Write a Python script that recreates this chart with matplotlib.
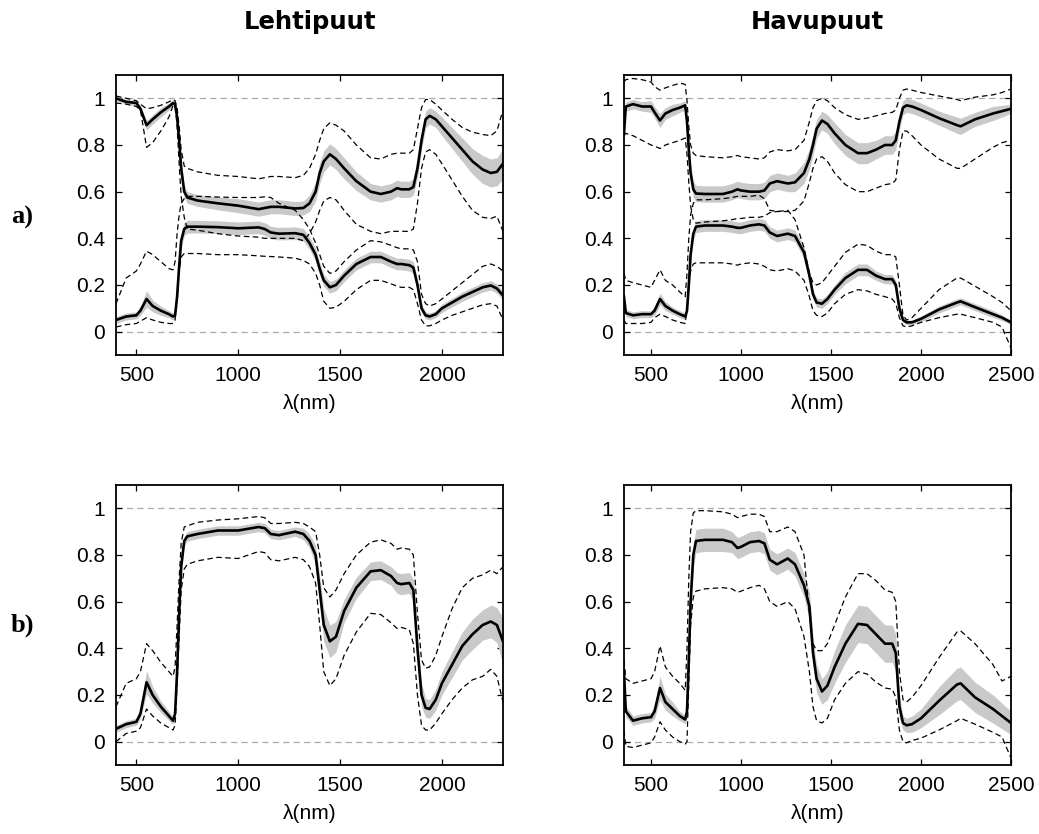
import matplotlib
matplotlib.use("Agg")
import numpy as np
import matplotlib.pyplot as plt

plt.rcParams['font.family'] = ['Liberation Sans', 'DejaVu Sans']
plt.rcParams['mathtext.fontset'] = 'stix'
plt.rcParams['lines.scale_dashes'] = False

# ---------------------------------------------------------------------------
# Wavelength grids (nm)
# ---------------------------------------------------------------------------
wl_leht = [400, 450, 500, 520, 550, 580, 620, 660, 680, 690,
           700, 710, 720, 735, 750, 800, 900, 1000, 1100, 1130,
           1160, 1200, 1280, 1320, 1350, 1380, 1400, 1420, 1450, 1480,
           1520, 1580, 1650, 1700, 1750, 1780, 1800, 1840, 1860, 1880,
           1900, 1920, 1940, 1970, 2000, 2050, 2100, 2150, 2200, 2240,
           2270, 2300]

wl_havu = [350, 360, 400, 450, 500, 520, 550, 580, 620, 660,
           690, 700, 710, 720, 735, 750, 800, 900, 950, 980,
           1000, 1050, 1100, 1130, 1160, 1200, 1260, 1300, 1350, 1380,
           1400, 1420, 1450, 1480, 1520, 1580, 1650, 1700, 1750, 1800,
           1840, 1860, 1880, 1900, 1920, 1950, 2000, 2100, 2200, 2220,
           2300, 2400, 2450, 2500]

# ---------------------------------------------------------------------------
# Lehtipuut, a): upper curve set (1 - T)
# ---------------------------------------------------------------------------
leht_a_up_mean = [1.0, 0.985, 0.98, 0.955, 0.885, 0.91, 0.94, 0.965, 0.98, 0.975,
                  0.92, 0.82, 0.70, 0.60, 0.575, 0.562, 0.55, 0.54, 0.525, 0.53,
                  0.535, 0.535, 0.528, 0.53, 0.55, 0.60, 0.68, 0.73, 0.76, 0.74,
                  0.70, 0.645, 0.60, 0.59, 0.60, 0.615, 0.61, 0.61, 0.62, 0.70,
                  0.82, 0.91, 0.925, 0.91, 0.88, 0.83, 0.78, 0.73, 0.695, 0.68,
                  0.685, 0.72]
leht_a_up_sd = [0.01, 0.01, 0.012, 0.015, 0.02, 0.02, 0.02, 0.015, 0.012, 0.012,
                0.02, 0.03, 0.03, 0.025, 0.025, 0.025, 0.028, 0.03, 0.03, 0.03,
                0.03, 0.03, 0.03, 0.03, 0.035, 0.04, 0.045, 0.045, 0.045, 0.045,
                0.045, 0.04, 0.035, 0.035, 0.035, 0.035, 0.035, 0.035, 0.035, 0.04,
                0.04, 0.035, 0.035, 0.035, 0.04, 0.045, 0.05, 0.055, 0.06, 0.06,
                0.06, 0.065]
leht_a_up_hi = [1.01, 1.0, 0.99, 0.975, 0.955, 0.96, 0.97, 0.985, 0.995, 0.99,
                0.96, 0.88, 0.78, 0.71, 0.70, 0.685, 0.67, 0.665, 0.655, 0.66,
                0.665, 0.665, 0.66, 0.67, 0.70, 0.76, 0.82, 0.87, 0.895, 0.885,
                0.86, 0.80, 0.745, 0.74, 0.76, 0.765, 0.765, 0.765, 0.78, 0.87,
                0.96, 0.995, 0.995, 0.975, 0.95, 0.91, 0.875, 0.855, 0.845, 0.84,
                0.86, 0.95]
leht_a_up_lo = [0.98, 0.975, 0.965, 0.95, 0.79, 0.81, 0.86, 0.92, 0.97, 0.97,
                0.88, 0.72, 0.58, 0.49, 0.44, 0.435, 0.42, 0.41, 0.405, 0.40,
                0.40, 0.40, 0.40, 0.39, 0.42, 0.47, 0.52, 0.56, 0.575, 0.565,
                0.52, 0.46, 0.43, 0.42, 0.43, 0.43, 0.43, 0.43, 0.44, 0.55,
                0.70, 0.77, 0.78, 0.76, 0.72, 0.65, 0.58, 0.52, 0.49, 0.485,
                0.495, 0.43]

# Lehtipuut, a): lower curve set (R)
leht_a_lo_mean = [0.05, 0.065, 0.07, 0.09, 0.14, 0.11, 0.09, 0.075, 0.065, 0.07,
                  0.15, 0.28, 0.39, 0.44, 0.45, 0.45, 0.448, 0.443, 0.447, 0.44,
                  0.425, 0.42, 0.422, 0.415, 0.38, 0.33, 0.27, 0.22, 0.19, 0.20,
                  0.24, 0.29, 0.32, 0.32, 0.30, 0.29, 0.29, 0.285, 0.275, 0.20,
                  0.10, 0.07, 0.065, 0.075, 0.10, 0.125, 0.15, 0.17, 0.19, 0.198,
                  0.185, 0.155]
leht_a_lo_sd = [0.015, 0.015, 0.015, 0.02, 0.035, 0.025, 0.02, 0.015, 0.015, 0.015,
                0.025, 0.03, 0.03, 0.028, 0.028, 0.027, 0.027, 0.027, 0.027, 0.027,
                0.027, 0.027, 0.027, 0.027, 0.028, 0.028, 0.028, 0.025, 0.025, 0.025,
                0.025, 0.025, 0.025, 0.025, 0.025, 0.025, 0.025, 0.025, 0.025, 0.025,
                0.02, 0.015, 0.015, 0.015, 0.018, 0.018, 0.02, 0.02, 0.02, 0.02,
                0.02, 0.02]
leht_a_lo_hi = [0.12, 0.23, 0.26, 0.29, 0.345, 0.33, 0.30, 0.27, 0.265, 0.30,
                0.42, 0.50, 0.55, 0.57, 0.58, 0.58, 0.577, 0.575, 0.575, 0.578,
                0.575, 0.55, 0.52, 0.48, 0.44, 0.38, 0.33, 0.28, 0.25, 0.26,
                0.30, 0.35, 0.39, 0.385, 0.37, 0.36, 0.355, 0.355, 0.35, 0.30,
                0.16, 0.12, 0.11, 0.12, 0.14, 0.175, 0.21, 0.245, 0.28, 0.29,
                0.28, 0.26]
leht_a_lo_lo = [0.02, 0.03, 0.035, 0.045, 0.06, 0.05, 0.04, 0.035, 0.035, 0.05,
                0.15, 0.26, 0.32, 0.335, 0.335, 0.335, 0.33, 0.33, 0.325, 0.323,
                0.322, 0.32, 0.315, 0.305, 0.29, 0.25, 0.20, 0.13, 0.10, 0.105,
                0.13, 0.18, 0.22, 0.22, 0.205, 0.195, 0.19, 0.19, 0.18, 0.12,
                0.05, 0.025, 0.025, 0.035, 0.05, 0.07, 0.085, 0.10, 0.115, 0.12,
                0.11, 0.05]

# ---------------------------------------------------------------------------
# Havupuut, a): upper curve set (1 - T)
# ---------------------------------------------------------------------------
havu_a_up_mean = [0.85, 0.965, 0.975, 0.965, 0.965, 0.94, 0.905, 0.935, 0.95, 0.96,
                  0.97, 0.90, 0.78, 0.68, 0.61, 0.592, 0.59, 0.59, 0.60, 0.61,
                  0.605, 0.60, 0.60, 0.605, 0.635, 0.645, 0.635, 0.64, 0.68, 0.74,
                  0.80, 0.87, 0.905, 0.89, 0.85, 0.80, 0.765, 0.765, 0.78, 0.80,
                  0.80, 0.82, 0.90, 0.96, 0.97, 0.965, 0.95, 0.915, 0.885, 0.88,
                  0.91, 0.935, 0.945, 0.955]
havu_a_up_sd = [0.02, 0.02, 0.02, 0.02, 0.025, 0.025, 0.03, 0.025, 0.025, 0.02,
                0.02, 0.03, 0.04, 0.04, 0.035, 0.035, 0.035, 0.035, 0.035, 0.035,
                0.035, 0.035, 0.035, 0.035, 0.035, 0.035, 0.035, 0.04, 0.045, 0.045,
                0.045, 0.04, 0.04, 0.04, 0.045, 0.045, 0.045, 0.045, 0.04, 0.04,
                0.04, 0.04, 0.035, 0.03, 0.03, 0.03, 0.03, 0.03, 0.035, 0.035,
                0.03, 0.03, 0.025, 0.02]
havu_a_up_hi = [1.07, 1.08, 1.085, 1.08, 1.07, 1.05, 1.035, 1.045, 1.055, 1.065,
                1.06, 0.99, 0.88, 0.80, 0.765, 0.755, 0.75, 0.745, 0.75, 0.755,
                0.75, 0.745, 0.74, 0.745, 0.77, 0.78, 0.775, 0.78, 0.82, 0.90,
                0.96, 0.99, 1.0, 0.99, 0.96, 0.93, 0.91, 0.915, 0.925, 0.935,
                0.94, 0.95, 1.0, 1.035, 1.04, 1.035, 1.025, 1.01, 0.995, 0.99,
                1.005, 1.015, 1.025, 1.04]
havu_a_up_lo = [0.84, 0.85, 0.84, 0.82, 0.80, 0.795, 0.785, 0.80, 0.81, 0.82,
                0.83, 0.76, 0.64, 0.54, 0.48, 0.465, 0.47, 0.475, 0.48, 0.485,
                0.485, 0.49, 0.49, 0.495, 0.51, 0.515, 0.515, 0.52, 0.56, 0.64,
                0.70, 0.74, 0.75, 0.73, 0.68, 0.63, 0.60, 0.60, 0.615, 0.63,
                0.635, 0.65, 0.78, 0.86, 0.86, 0.84, 0.80, 0.74, 0.70, 0.70,
                0.74, 0.79, 0.81, 0.82]

# Havupuut, a): lower curve set (R)
havu_a_lo_mean = [0.15, 0.08, 0.07, 0.075, 0.075, 0.09, 0.14, 0.11, 0.09, 0.075,
                  0.065, 0.09, 0.20, 0.33, 0.42, 0.45, 0.455, 0.455, 0.45, 0.445,
                  0.445, 0.455, 0.46, 0.455, 0.425, 0.41, 0.42, 0.41, 0.34, 0.24,
                  0.16, 0.125, 0.12, 0.14, 0.18, 0.23, 0.265, 0.265, 0.24, 0.225,
                  0.225, 0.20, 0.10, 0.05, 0.04, 0.04, 0.055, 0.095, 0.125, 0.13,
                  0.105, 0.075, 0.06, 0.04]
havu_a_lo_sd = [0.02, 0.015, 0.015, 0.015, 0.015, 0.02, 0.025, 0.02, 0.015, 0.015,
                0.015, 0.02, 0.03, 0.03, 0.025, 0.025, 0.025, 0.025, 0.025, 0.025,
                0.025, 0.025, 0.025, 0.025, 0.025, 0.025, 0.025, 0.025, 0.025, 0.025,
                0.02, 0.02, 0.02, 0.02, 0.02, 0.025, 0.025, 0.025, 0.02, 0.02,
                0.02, 0.02, 0.015, 0.01, 0.01, 0.01, 0.012, 0.015, 0.015, 0.015,
                0.015, 0.015, 0.012, 0.01]
havu_a_lo_hi = [0.25, 0.22, 0.21, 0.20, 0.19, 0.22, 0.265, 0.22, 0.20, 0.17,
                0.15, 0.25, 0.40, 0.50, 0.55, 0.565, 0.565, 0.57, 0.575, 0.58,
                0.58, 0.58, 0.585, 0.57, 0.52, 0.515, 0.52, 0.48, 0.36, 0.25,
                0.21, 0.20, 0.21, 0.24, 0.28, 0.34, 0.375, 0.37, 0.345, 0.33,
                0.33, 0.32, 0.20, 0.07, 0.05, 0.06, 0.10, 0.18, 0.23, 0.23,
                0.195, 0.15, 0.125, 0.09]
havu_a_lo_lo = [0.05, 0.035, 0.035, 0.035, 0.04, 0.06, 0.075, 0.065, 0.05, 0.04,
                0.035, 0.10, 0.20, 0.26, 0.29, 0.295, 0.295, 0.295, 0.29, 0.285,
                0.29, 0.295, 0.29, 0.28, 0.265, 0.26, 0.27, 0.26, 0.22, 0.15,
                0.09, 0.07, 0.065, 0.08, 0.12, 0.16, 0.18, 0.175, 0.16, 0.15,
                0.14, 0.12, 0.06, 0.025, 0.02, 0.025, 0.04, 0.06, 0.075, 0.075,
                0.06, 0.04, 0.02, -0.07]

# ---------------------------------------------------------------------------
# Lehtipuut, b)
# ---------------------------------------------------------------------------
leht_b_mean = [0.055, 0.075, 0.085, 0.12, 0.255, 0.20, 0.15, 0.11, 0.09, 0.12,
               0.30, 0.55, 0.75, 0.86, 0.88, 0.89, 0.905, 0.905, 0.92, 0.915,
               0.89, 0.885, 0.90, 0.89, 0.86, 0.80, 0.65, 0.50, 0.43, 0.45,
               0.56, 0.66, 0.73, 0.735, 0.71, 0.68, 0.675, 0.68, 0.65, 0.40,
               0.20, 0.145, 0.14, 0.18, 0.25, 0.33, 0.41, 0.46, 0.50, 0.515,
               0.50, 0.43]
leht_b_sd = [0.015, 0.015, 0.015, 0.02, 0.05, 0.035, 0.025, 0.02, 0.015, 0.02,
             0.03, 0.04, 0.03, 0.02, 0.02, 0.02, 0.02, 0.02, 0.02, 0.02,
             0.02, 0.02, 0.02, 0.025, 0.03, 0.04, 0.06, 0.07, 0.07, 0.065,
             0.05, 0.045, 0.04, 0.04, 0.04, 0.045, 0.045, 0.045, 0.045, 0.05,
             0.05, 0.04, 0.04, 0.045, 0.05, 0.055, 0.06, 0.065, 0.065, 0.07,
             0.075, 0.10]
leht_b_hi = [0.15, 0.25, 0.27, 0.30, 0.42, 0.39, 0.34, 0.30, 0.28, 0.32,
             0.50, 0.70, 0.85, 0.92, 0.925, 0.94, 0.95, 0.955, 0.965, 0.96,
             0.935, 0.935, 0.94, 0.935, 0.92, 0.90, 0.80, 0.66, 0.62, 0.65,
             0.72, 0.80, 0.855, 0.865, 0.85, 0.825, 0.83, 0.825, 0.80, 0.55,
             0.35, 0.315, 0.32, 0.37, 0.45, 0.57, 0.66, 0.70, 0.715, 0.735,
             0.72, 0.75]
leht_b_lo = [0.0, 0.035, 0.045, 0.06, 0.14, 0.11, 0.08, 0.06, 0.05, 0.07,
             0.25, 0.45, 0.65, 0.74, 0.76, 0.775, 0.79, 0.785, 0.815, 0.81,
             0.78, 0.775, 0.79, 0.78, 0.75, 0.68, 0.50, 0.30, 0.24, 0.27,
             0.37, 0.47, 0.55, 0.545, 0.51, 0.485, 0.49, 0.48, 0.42, 0.20,
             0.07, 0.05, 0.05, 0.08, 0.12, 0.18, 0.23, 0.265, 0.28, 0.31,
             0.28, 0.17]

# ---------------------------------------------------------------------------
# Havupuut, b)
# ---------------------------------------------------------------------------
havu_b_mean = [0.30, 0.13, 0.09, 0.10, 0.105, 0.13, 0.23, 0.17, 0.14, 0.11,
               0.095, 0.13, 0.35, 0.60, 0.80, 0.86, 0.865, 0.865, 0.855, 0.83,
               0.835, 0.855, 0.86, 0.85, 0.78, 0.76, 0.785, 0.76, 0.67, 0.58,
               0.38, 0.27, 0.215, 0.24, 0.32, 0.42, 0.505, 0.50, 0.46, 0.42,
               0.42, 0.38, 0.15, 0.08, 0.07, 0.075, 0.10, 0.175, 0.245, 0.25,
               0.19, 0.14, 0.11, 0.08]
havu_b_sd = [0.03, 0.025, 0.02, 0.02, 0.02, 0.03, 0.05, 0.035, 0.03, 0.02,
             0.02, 0.03, 0.05, 0.06, 0.05, 0.05, 0.05, 0.05, 0.045, 0.045,
             0.045, 0.045, 0.045, 0.045, 0.045, 0.045, 0.045, 0.05, 0.05, 0.06,
             0.06, 0.06, 0.055, 0.06, 0.07, 0.08, 0.08, 0.08, 0.08, 0.08,
             0.08, 0.08, 0.05, 0.03, 0.03, 0.035, 0.04, 0.06, 0.07, 0.07,
             0.065, 0.06, 0.055, 0.05]
havu_b_hi = [0.35, 0.27, 0.25, 0.26, 0.27, 0.30, 0.41, 0.32, 0.28, 0.25,
             0.22, 0.40, 0.70, 0.90, 0.98, 0.99, 0.99, 0.985, 0.975, 0.96,
             0.965, 0.975, 0.975, 0.965, 0.90, 0.90, 0.92, 0.90, 0.80, 0.55,
             0.42, 0.39, 0.39, 0.42, 0.50, 0.62, 0.72, 0.72, 0.69, 0.65,
             0.64, 0.60, 0.30, 0.18, 0.17, 0.19, 0.24, 0.36, 0.47, 0.475,
             0.42, 0.33, 0.26, 0.28]
havu_b_lo = [0.05, -0.02, -0.025, -0.015, -0.005, 0.02, 0.085, 0.05, 0.02, 0.0,
             -0.01, 0.0, 0.25, 0.50, 0.62, 0.645, 0.655, 0.66, 0.655, 0.64,
             0.645, 0.66, 0.67, 0.655, 0.60, 0.58, 0.60, 0.57, 0.45, 0.30,
             0.15, 0.09, 0.08, 0.10, 0.18, 0.25, 0.30, 0.29, 0.255, 0.23,
             0.225, 0.19, 0.05, 0.0, -0.005, 0.005, 0.015, 0.05, 0.09, 0.10,
             0.075, 0.04, 0.02, -0.07]

col_titles = ['Lehtipuut', 'Havupuut']
row_labels = ['a)', 'b)']
y_ticks = [0, 0.2, 0.4, 0.6, 0.8, 1]
y_ticklabels = ['0', '0.2', '0.4', '0.6', '0.8', '1']
x_ticks_leht = [500, 1000, 1500, 2000]
x_ticks_havu = [500, 1000, 1500, 2000, 2500]

BAND = '#c9c9c9'
FIG_W, FIG_H = 1039, 834

fig = plt.figure(figsize=(FIG_W / 100, FIG_H / 100), dpi=100)


def add_axes_px(x0, y0, x1, y1):
    return fig.add_axes([x0 / FIG_W, 1 - y1 / FIG_H, (x1 - x0) / FIG_W, (y1 - y0) / FIG_H])


def draw_set(ax, wl, mean, sd, lo, hi):
    wl = np.asarray(wl, float)
    mean = np.asarray(mean, float)
    sd = np.asarray(sd, float)
    ax.fill_between(wl, mean - sd, mean + sd, color=BAND, lw=0, zorder=2)
    ax.plot(wl, lo, color='black', lw=0.9, dashes=(4, 2.5), zorder=3)
    ax.plot(wl, hi, color='black', lw=0.9, dashes=(4, 2.5), zorder=3)
    ax.plot(wl, mean, color='black', lw=1.9, zorder=4, solid_joinstyle='round')


def style_axes(ax, xlim, xticks):
    ax.set_xlim(*xlim)
    ax.set_ylim(-0.1, 1.1)
    ax.set_xticks(xticks)
    ax.set_yticks(y_ticks)
    ax.set_yticklabels(y_ticklabels)
    ax.tick_params(direction='in', top=True, right=True, length=4, width=0.9,
                   labelsize=15, pad=8)
    for sp in ax.spines.values():
        sp.set_linewidth(1.3)
    for yref in (0, 1):
        ax.axhline(yref, color='#aaaaaa', lw=0.9, dashes=(4.5, 3), zorder=1)
    ax.set_xlabel('λ(nm)', fontsize=15, labelpad=6.5)


ax_la = add_axes_px(116, 75, 503, 355)
ax_ha = add_axes_px(624, 75, 1011, 355)
ax_lb = add_axes_px(116, 485, 503, 765)
ax_hb = add_axes_px(624, 485, 1011, 765)

draw_set(ax_la, wl_leht, leht_a_up_mean, leht_a_up_sd, leht_a_up_lo, leht_a_up_hi)
draw_set(ax_la, wl_leht, leht_a_lo_mean, leht_a_lo_sd, leht_a_lo_lo, leht_a_lo_hi)
draw_set(ax_ha, wl_havu, havu_a_up_mean, havu_a_up_sd, havu_a_up_lo, havu_a_up_hi)
draw_set(ax_ha, wl_havu, havu_a_lo_mean, havu_a_lo_sd, havu_a_lo_lo, havu_a_lo_hi)
draw_set(ax_lb, wl_leht, leht_b_mean, leht_b_sd, leht_b_lo, leht_b_hi)
draw_set(ax_hb, wl_havu, havu_b_mean, havu_b_sd, havu_b_lo, havu_b_hi)

for ax in (ax_la, ax_lb):
    style_axes(ax, (400, 2300), x_ticks_leht)
for ax in (ax_ha, ax_hb):
    style_axes(ax, (350, 2500), x_ticks_havu)

# column titles
fig.text(309.5 / FIG_W, 1 - 29 / FIG_H, col_titles[0], ha='center', va='baseline',
         fontsize=17.5, fontweight='bold', family=['DejaVu Sans'])
fig.text(817.5 / FIG_W, 1 - 29 / FIG_H, col_titles[1], ha='center', va='baseline',
         fontsize=17.5, fontweight='bold', family=['DejaVu Sans'])

# row labels
fig.text(11 / FIG_W, 1 - 224 / FIG_H, row_labels[0], ha='left', va='baseline',
         fontsize=19, fontweight='bold', family=['Liberation Serif', 'DejaVu Serif'])
fig.text(11 / FIG_W, 1 - 632 / FIG_H, row_labels[1], ha='left', va='baseline',
         fontsize=19, fontweight='bold', family=['Liberation Serif', 'DejaVu Serif'])

fig.savefig('out.png', dpi=100)
